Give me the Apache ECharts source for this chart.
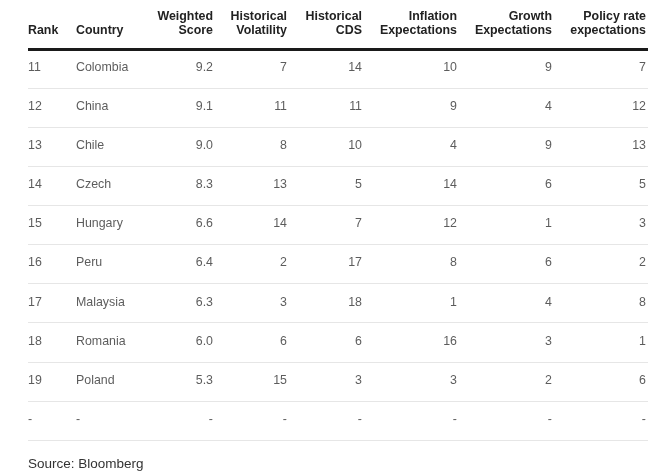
<!DOCTYPE html>
<html>
<head>
<meta charset="utf-8">
<script src="https://cdn.jsdelivr.net/npm/echarts@6/dist/echarts.min.js"></script>
<style>
html,body{margin:0;padding:0;background:#fff;}
#main{width:669px;height:475px;}
</style>
</head>
<body>
<div id="main"></div>
<script>
// ---- data ----
var ranks = ['11','12','13','14','15','16','17','18','19','-'];
var countries = ['Colombia','China','Chile','Czech','Hungary','Peru','Malaysia','Romania','Poland','-'];
var weightedScore = [9.2, 9.1, 9.0, 8.3, 6.6, 6.4, 6.3, 6.0, 5.3, null];
var historicalVolatility = [7, 11, 8, 13, 14, 2, 3, 6, 15, null];
var historicalCDS = [14, 11, 10, 5, 7, 17, 18, 6, 3, null];
var inflationExpectations = [10, 9, 4, 14, 12, 8, 1, 16, 3, null];
var growthExpectations = [9, 4, 9, 6, 1, 6, 4, 3, 2, null];
var policyRateExpectations = [7, 12, 13, 5, 3, 2, 8, 1, 6, null];
var headers = ['Rank', 'Country', 'Weighted\nScore', 'Historical\nVolatility', 'Historical\nCDS', 'Inflation\nExpectations', 'Growth\nExpectations', 'Policy rate\nexpectations'];

// ---- layout (column anchors on x scale, alignment) ----
var colAnchor = [0, 48, 185, 259, 334, 429, 524, 618];
var colAlign = ['left', 'left', 'right', 'right', 'right', 'right', 'right', 'right'];

function fmtInt(v){ return v == null ? '-' : String(v); }
function fmt1(v){ return v == null ? '-' : v.toFixed(1); }

var columns = [
  ranks,
  countries,
  weightedScore.map(fmt1),
  historicalVolatility.map(fmtInt),
  historicalCDS.map(fmtInt),
  inflationExpectations.map(fmtInt),
  growthExpectations.map(fmtInt),
  policyRateExpectations.map(fmtInt)
];

var rowCats = ranks.map(function(r, i){ return 'row' + i; });
var FONT = '"Liberation Sans", Arial, Helvetica, sans-serif';

var series = columns.map(function(col, c){
  return {
    type: 'scatter',
    symbolSize: 0,
    silent: true,
    data: col.map(function(t, i){ return [colAnchor[c], i, t]; }),
    label: {
      show: true,
      position: colAlign[c] === 'left' ? 'right' : 'left',
      distance: 0,
      offset: [0, -1],
      formatter: function(p){ return p.value[2]; },
      color: '#333',
      fontSize: 12.4,
      fontFamily: FONT
    }
  };
});

var chart = echarts.init(document.getElementById('main'), null, {renderer: 'canvas'});
chart.setOption({
  animation: false,
  backgroundColor: '#fff',
  grid: {left: 28, right: 21, top: 49, bottom: 35},
  xAxis: {
    type: 'value', min: 0, max: 620, position: 'top',
    axisLine: {show: true, onZero: false, lineStyle: {color: '#1a1a1a', width: 3, cap: 'butt'}},
    axisTick: {show: false}, axisLabel: {show: false}, splitLine: {show: false}
  },
  yAxis: {
    type: 'category', data: rowCats, inverse: true, boundaryGap: true,
    axisLine: {show: false}, axisTick: {show: false}, axisLabel: {show: false},
    splitLine: {show: true, lineStyle: {color: '#e6e6e6', width: 1}}
  },
  series: series
});

// header and source text placed via the x scale
var elements = headers.map(function(h, c){
  var px = chart.convertToPixel({xAxisIndex: 0}, colAnchor[c]);
  var twoLine = h.indexOf('\n') >= 0;
  return {
    type: 'text',
    x: px, y: twoLine ? 24 : 31,
    silent: true,
    style: {
      text: h,
      align: colAlign[c],
      verticalAlign: 'middle',
      lineHeight: 14,
      fill: '#222',
      font: 'bold 12.4px ' + FONT
    }
  };
});
elements.push({
  type: 'text', x: 28, y: 464, silent: true,
  style: {text: 'Source: Bloomberg', align: 'left', verticalAlign: 'middle', fill: '#333', font: '13.5px ' + FONT}
});
chart.setOption({graphic: {elements: elements}});
</script>
</body>
</html>
